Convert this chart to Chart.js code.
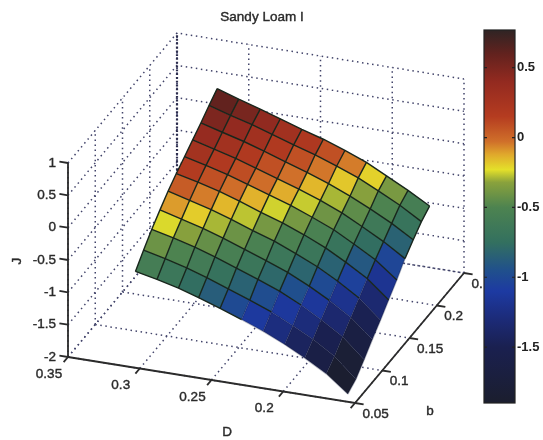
<!DOCTYPE html>
<html>
<head>
<meta charset="utf-8">
<style>
  html, body { margin: 0; background: #fff; }
  canvas { position: absolute; left: 0; top: 0; filter: blur(.6px); }
</style>
<script src="https://cdn.jsdelivr.net/npm/chart.js@4"></script>
</head>
<body>
<canvas id="cSurf" width="543" height="440"></canvas>
<canvas id="cBar" width="543" height="440"></canvas>
<script>
/* ── data ─────────────────────────────── */
const dGrid = [.303, .288, .273, .259, .244, .229, .214, .199, .185, .170, .155];
const bGrid = [.05, .065, .08, .095, .11, .125, .14, .155, .17, .185, .20];

// J values: one row per b, one column per D
const jRows = [
  [-.51, -.58, -.66, -.76, -.87, -.99, -1.12, -1.27, -1.43, -1.62, -1.88],
  [-.33, -.41, -.50, -.60, -.72, -.84, -.97, -1.13, -1.29, -1.50, -1.80],
  [-.16, -.24, -.33, -.43, -.55, -.67, -.80, -.96, -1.14, -1.35, -1.65],
  [-.01, -.10, -.19, -.29, -.41, -.53, -.66, -.82, -.99, -1.20, -1.49],
  [ .13,  .04, -.05, -.15, -.27, -.38, -.52, -.67, -.84, -1.05, -1.34],
  [ .25,  .17,  .08, -.02, -.14, -.25, -.38, -.53, -.70, -.90, -1.18],
  [ .36,  .28,  .19,  .09, -.02, -.13, -.26, -.40, -.57, -.76, -1.02],
  [ .47,  .38,  .29,  .19,  .08, -.03, -.15, -.29, -.45, -.63, -.84],
  [ .58,  .49,  .40,  .30,  .19,  .08, -.04, -.18, -.33, -.50, -.70],
  [ .70,  .60,  .51,  .41,  .30,  .20,  .08, -.05, -.20, -.37, -.57],
  [ .81,  .70,  .60,  .50,  .39,  .29,  .17,  .04, -.12, -.29, -.48]
];

const dTicks = [.35, .3, .25, .2, .15];
const dLabels = ['0.35', '0.3', '0.25', '0.2', ''];
const bTicks = [.05, .1, .15, .2, .25];
const bLabels = ['0.05', '0.1', '0.15', '0.2', '0.'];
const jTicks = [-2, -1.5, -1, -.5, 0, .5, 1];
const jLabels = ['-2', '-1.5', '-1', '-0.5', '0', '0.5', '1'];
const barTicks = [-1.5, -1, -.5, 0, .5];

const mapVals = [-1.9, -1.5, -1.3, -1.1, -.95, -.75, -.5, -.32, -.23, -.12, -.03, .15, .4, .6, .77];
const mapCols = ['#1b1e2e', '#1a2050', '#1c2b78', '#1d3aa2', '#20508c', '#33705f', '#4d8350', '#8aa23c',
                 '#e4e02a', '#e0a82c', '#d0702a', '#b53c20', '#932a20', '#62221e', '#2f2424'];

/* ── helpers ──────────────────────────── */
const hex = c => [1, 3, 5].map(i => parseInt(c.slice(i, i + 2), 16));

function jColor(v) {
  let i = 0;
  while (i < mapVals.length - 2 && v > mapVals[i + 1]) i++;
  const t = Math.min(1, Math.max(0, (v - mapVals[i]) / (mapVals[i + 1] - mapVals[i])));
  const a = hex(mapCols[i]), b = hex(mapCols[i + 1]);
  return `rgb(${a.map((x, k) => Math.round(x + (b[k] - x) * t)).join(',')})`;
}

// box projection, x and y are in canvas px on the hidden scales
function project(D, b, J) {
  const u = (.35 - D) / .2, v = (b - .05) / .2, w = (J + 2) / 3;
  return { x: 68 + 287 * u + 109 * v, y: 357 + 46 * u - 130 * v - 194 * w, j: J };
}

const datasets = [];
function addLine(pts, opts) {
  datasets.push(Object.assign({
    data: pts, showLine: true, pointRadius: 0, borderWidth: 1, fill: false, clip: false,
    borderColor: '#333', order: -datasets.length
  }, opts));
}

/* ── dotted box grid ──────────────────── */
const dotted = { borderColor: '#42446a', borderWidth: 1.5, borderDash: [1.5, 3.6] };
jTicks.forEach(j => {
  addLine([project(.35, .05, j), project(.35, .25, j), project(.15, .25, j)], dotted);
});
bTicks.forEach(b => {
  addLine([project(.35, b, -2), project(.35, b, 1)], dotted);
  addLine([project(.35, b, -2), project(.15, b, -2)], dotted);
});
dTicks.forEach(d => {
  addLine([project(d, .25, -2), project(d, .25, 1)], dotted);
  addLine([project(d, .05, -2), project(d, .25, -2)], dotted);
});
addLine([project(.35, .25, -2), project(.35, .25, 1)], { ...dotted, borderColor: '#2c2d4c', borderWidth: 2.2, borderDash: [1.8, 2] });

/* ── surface cells ────────────────────── */
for (let k = 0; k < 10; k++) {
  for (let i = 0; i < 10; i++) {
    const c = jColor(jRows[k][i + 1]);
    addLine([
      project(dGrid[i], bGrid[k], jRows[k][i]),
      project(dGrid[i + 1], bGrid[k], jRows[k][i + 1]),
      project(dGrid[i + 1], bGrid[k + 1], jRows[k + 1][i + 1]),
      project(dGrid[i], bGrid[k + 1], jRows[k + 1][i]),
      project(dGrid[i], bGrid[k], jRows[k][i])
    ], { borderWidth: 0, borderColor: c, backgroundColor: c, fill: 'shape' });
  }
}

/* ── mesh lines ───────────────────────── */
const mesh = {
  borderWidth: 1.4, borderColor: '#18261c',
  segment: { borderColor: c => c.p0.raw.j < -.95 ? 'rgba(18,24,56,.3)' : '#18261c' }
};
bGrid.forEach((b, k) => addLine(dGrid.map((d, i) => project(d, b, jRows[k][i])), mesh));
dGrid.forEach((d, i) => addLine(bGrid.map((b, k) => project(d, b, jRows[k][i])), mesh));

/* ── solid axes and ticks ─────────────── */
const axisLine = { borderColor: '#2b2b2b', borderWidth: 1.8 };
addLine([project(.35, .05, 1), project(.35, .05, -2)], axisLine);
addLine([project(.35, .05, -2), project(.15, .05, -2), project(.15, .25, -2)], axisLine);
jTicks.forEach(j => addLine([project(.35, .05, j), project(.356, .05, j)], axisLine));
dTicks.forEach(d => addLine([project(d, .05, -2), project(d, .042, -2)], axisLine));
bTicks.forEach(b => addLine([project(.15, b, -2), project(.144, b, -2)], axisLine));

/* ── text on the 3d axes ──────────────── */
const boxText = {
  id: 'boxText',
  afterDraw(chart) {
    const { ctx, scales: { x, y } } = chart;
    const put = (t, px, py, align) => {
      const sx = x.getPixelForValue(px), sy = y.getPixelForValue(py);
      ctx.textAlign = align || 'center';
      ctx.strokeText(t, sx, sy);
      ctx.fillText(t, sx, sy);
    };
    ctx.save();
    ctx.fillStyle = '#2a2a2a';
    ctx.strokeStyle = '#2a2a2a';
    ctx.lineWidth = .4;
    ctx.textBaseline = 'middle';
    ctx.font = "13.5px 'Liberation Sans', sans-serif";
    put('Sandy Loam I', 262, 17);
    jTicks.forEach((j, n) => {
      const p = project(.35, .05, j);
      put(jLabels[n], p.x - 12, p.y, 'right');
    });
    dTicks.forEach((d, n) => {
      const p = project(d, .05, -2);
      put(dLabels[n], p.x - 19, p.y + 17);
    });
    bTicks.forEach((b, n) => {
      const p = project(.15, b, -2);
      put(bLabels[n], p.x + 7.5, p.y + 11, 'left');
    });
    put('D', 227, 432);
    put('b', 430, 411);
    ctx.translate(x.getPixelForValue(17), y.getPixelForValue(261));
    ctx.rotate(-Math.PI / 2);
    ctx.textAlign = 'center';
    ctx.strokeText('J', 0, 0);
    ctx.fillText('J', 0, 0);
    ctx.restore();
  }
};

new Chart('cSurf', {
  type: 'scatter',
  data: { datasets },
  plugins: [boxText],
  options: {
    responsive: false, animation: false, events: [],
    plugins: { legend: { display: false }, tooltip: { enabled: false } },
    scales: {
      x: { type: 'linear', min: 0, max: 543, display: false },
      y: { type: 'linear', min: 0, max: 440, reverse: true, display: false }
    }
  }
});

/* ── colorbar ─────────────────────────── */
const barTickMarks = {
  id: 'barTickMarks',
  afterDraw(chart) {
    const { ctx, chartArea: a, scales: { y } } = chart;
    ctx.save();
    ctx.strokeStyle = '#222';
    ctx.lineWidth = 1.2;
    barTicks.forEach(v => {
      const p = y.getPixelForValue(v);
      ctx.beginPath();
      ctx.moveTo(a.left, p); ctx.lineTo(a.left + 3, p);
      ctx.moveTo(a.right, p); ctx.lineTo(a.right - 3, p);
      ctx.stroke();
    });
    ctx.strokeRect(a.left, a.top, a.right - a.left, a.bottom - a.top);
    ctx.restore();
  }
};

new Chart('cBar', {
  type: 'bar',
  data: {
    labels: ['J'],
    datasets: [{
      data: [[mapVals[0], mapVals[mapVals.length - 1]]],
      categoryPercentage: 1, barPercentage: 1,
      backgroundColor: c => {
        const a = c.chart.chartArea;
        if (!a) return '#333';
        const y = c.chart.scales.y;
        const g = c.chart.ctx.createLinearGradient(0, a.bottom, 0, a.top);
        const span = y.max - y.min;
        mapVals.forEach((v, n) => g.addColorStop((v - y.min) / span, mapCols[n]));
        return g;
      }
    }]
  },
  plugins: [barTickMarks],
  options: {
    responsive: false, animation: false, events: [],
    layout: { padding: { left: 484, top: 30, bottom: 37, right: 0 } },
    plugins: { legend: { display: false }, tooltip: { enabled: false } },
    scales: {
      x: { display: false },
      y: {
        position: 'right', min: -1.9, max: .77,
        grid: { display: false, drawTicks: false }, border: { display: false },
        afterBuildTicks: s => { s.ticks = barTicks.map(value => ({ value })); },
        afterFit: s => { s.width = 28; },
        ticks: {
          padding: 2, color: '#222',
          font: { family: "'Liberation Sans', sans-serif", size: 13, weight: 'bold' },
          callback: v => String(v)
        }
      }
    }
  }
});
</script>
</body>
</html>
